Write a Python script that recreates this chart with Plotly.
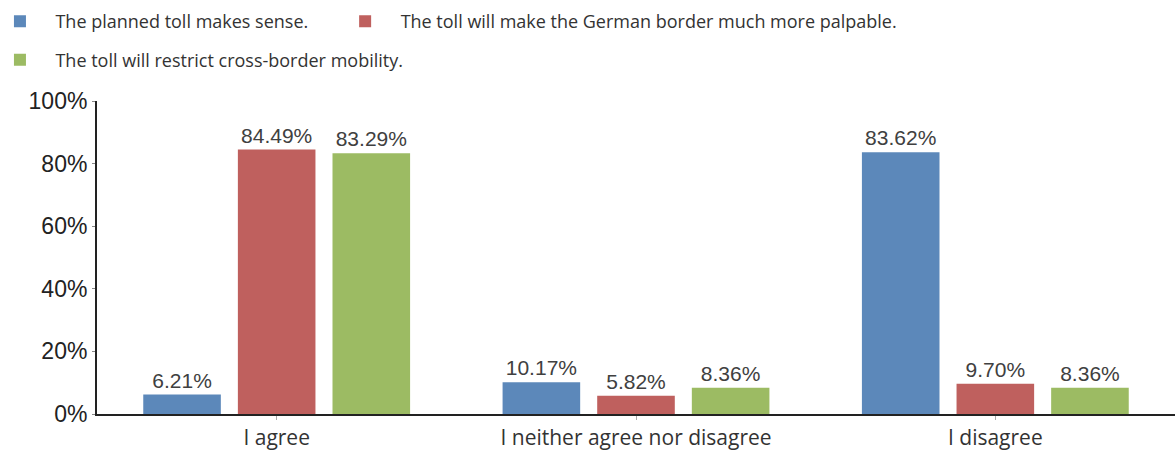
import plotly.graph_objects as go

categories = ["I agree", "I neither agree nor disagree", "I disagree"]
series_names = [
    "The planned toll makes sense.",
    "The toll will make the German border much more palpable.",
    "The toll will restrict cross-border mobility.",
]
sense = [6.21, 10.17, 83.62]
palpable = [84.49, 5.82, 9.70]
restrict = [83.29, 8.36, 8.36]
colors = ["#5c88ba", "#bf605e", "#9cbb63"]
y_ticks = [0, 20, 40, 60, 80, 100]
y_tick_labels = [f"{v}%" for v in y_ticks]

series_values = [sense, palpable, restrict]
legend_ids = ["legend", "legend2", "legend3"]

fig = go.Figure()
for name, vals, col, lg in zip(series_names, series_values, colors, legend_ids):
    fig.add_trace(go.Bar(
        x=categories, y=vals, name=name,
        marker=dict(color=col, line=dict(width=0)),
        text=[f"{v:.2f}%" for v in vals],
        textposition="outside",
        textfont=dict(family="Liberation Sans, Arial", size=21, color="#404040"),
        cliponaxis=False,
        legend=lg,
    ))

legend_font = dict(family="Open Sans", size=18, color="#333333")
common = dict(orientation="h", xanchor="left", yanchor="top", font=legend_font,
              itemclick=False, itemdoubleclick=False, bgcolor="rgba(0,0,0,0)",
              itemwidth=61)
fig.update_layout(
    width=1175, height=457,
    margin=dict(l=97, r=0, t=101, b=43, autoexpand=False),
    paper_bgcolor="white", plot_bgcolor="white",
    barmode="group", bargap=0.21, bargroupgap=0.18,
    showlegend=True,
    legend=dict(x=-0.1044, y=1.313, **common),
    legend2=dict(x=0.2158, y=1.313, **common),
    legend3=dict(x=-0.1044, y=1.19, **common),
    xaxis=dict(
        showline=True, linecolor="#222222", linewidth=2,
        ticks="outside", ticklen=4, tickcolor="#aaaaaa",
        tickfont=dict(family="Open Sans", size=21, color="#333333"),
        showgrid=False,
    ),
    yaxis=dict(
        range=[0, 100], tickvals=y_ticks, ticktext=y_tick_labels,
        showline=True, linecolor="#222222", linewidth=2,
        ticks="outside", ticklen=3, tickcolor="#888888",
        tickfont=dict(family="Liberation Sans, Arial", size=23, color="#222222"),
        showgrid=False, zeroline=False,
    ),
)

fig.write_html("out.html")
